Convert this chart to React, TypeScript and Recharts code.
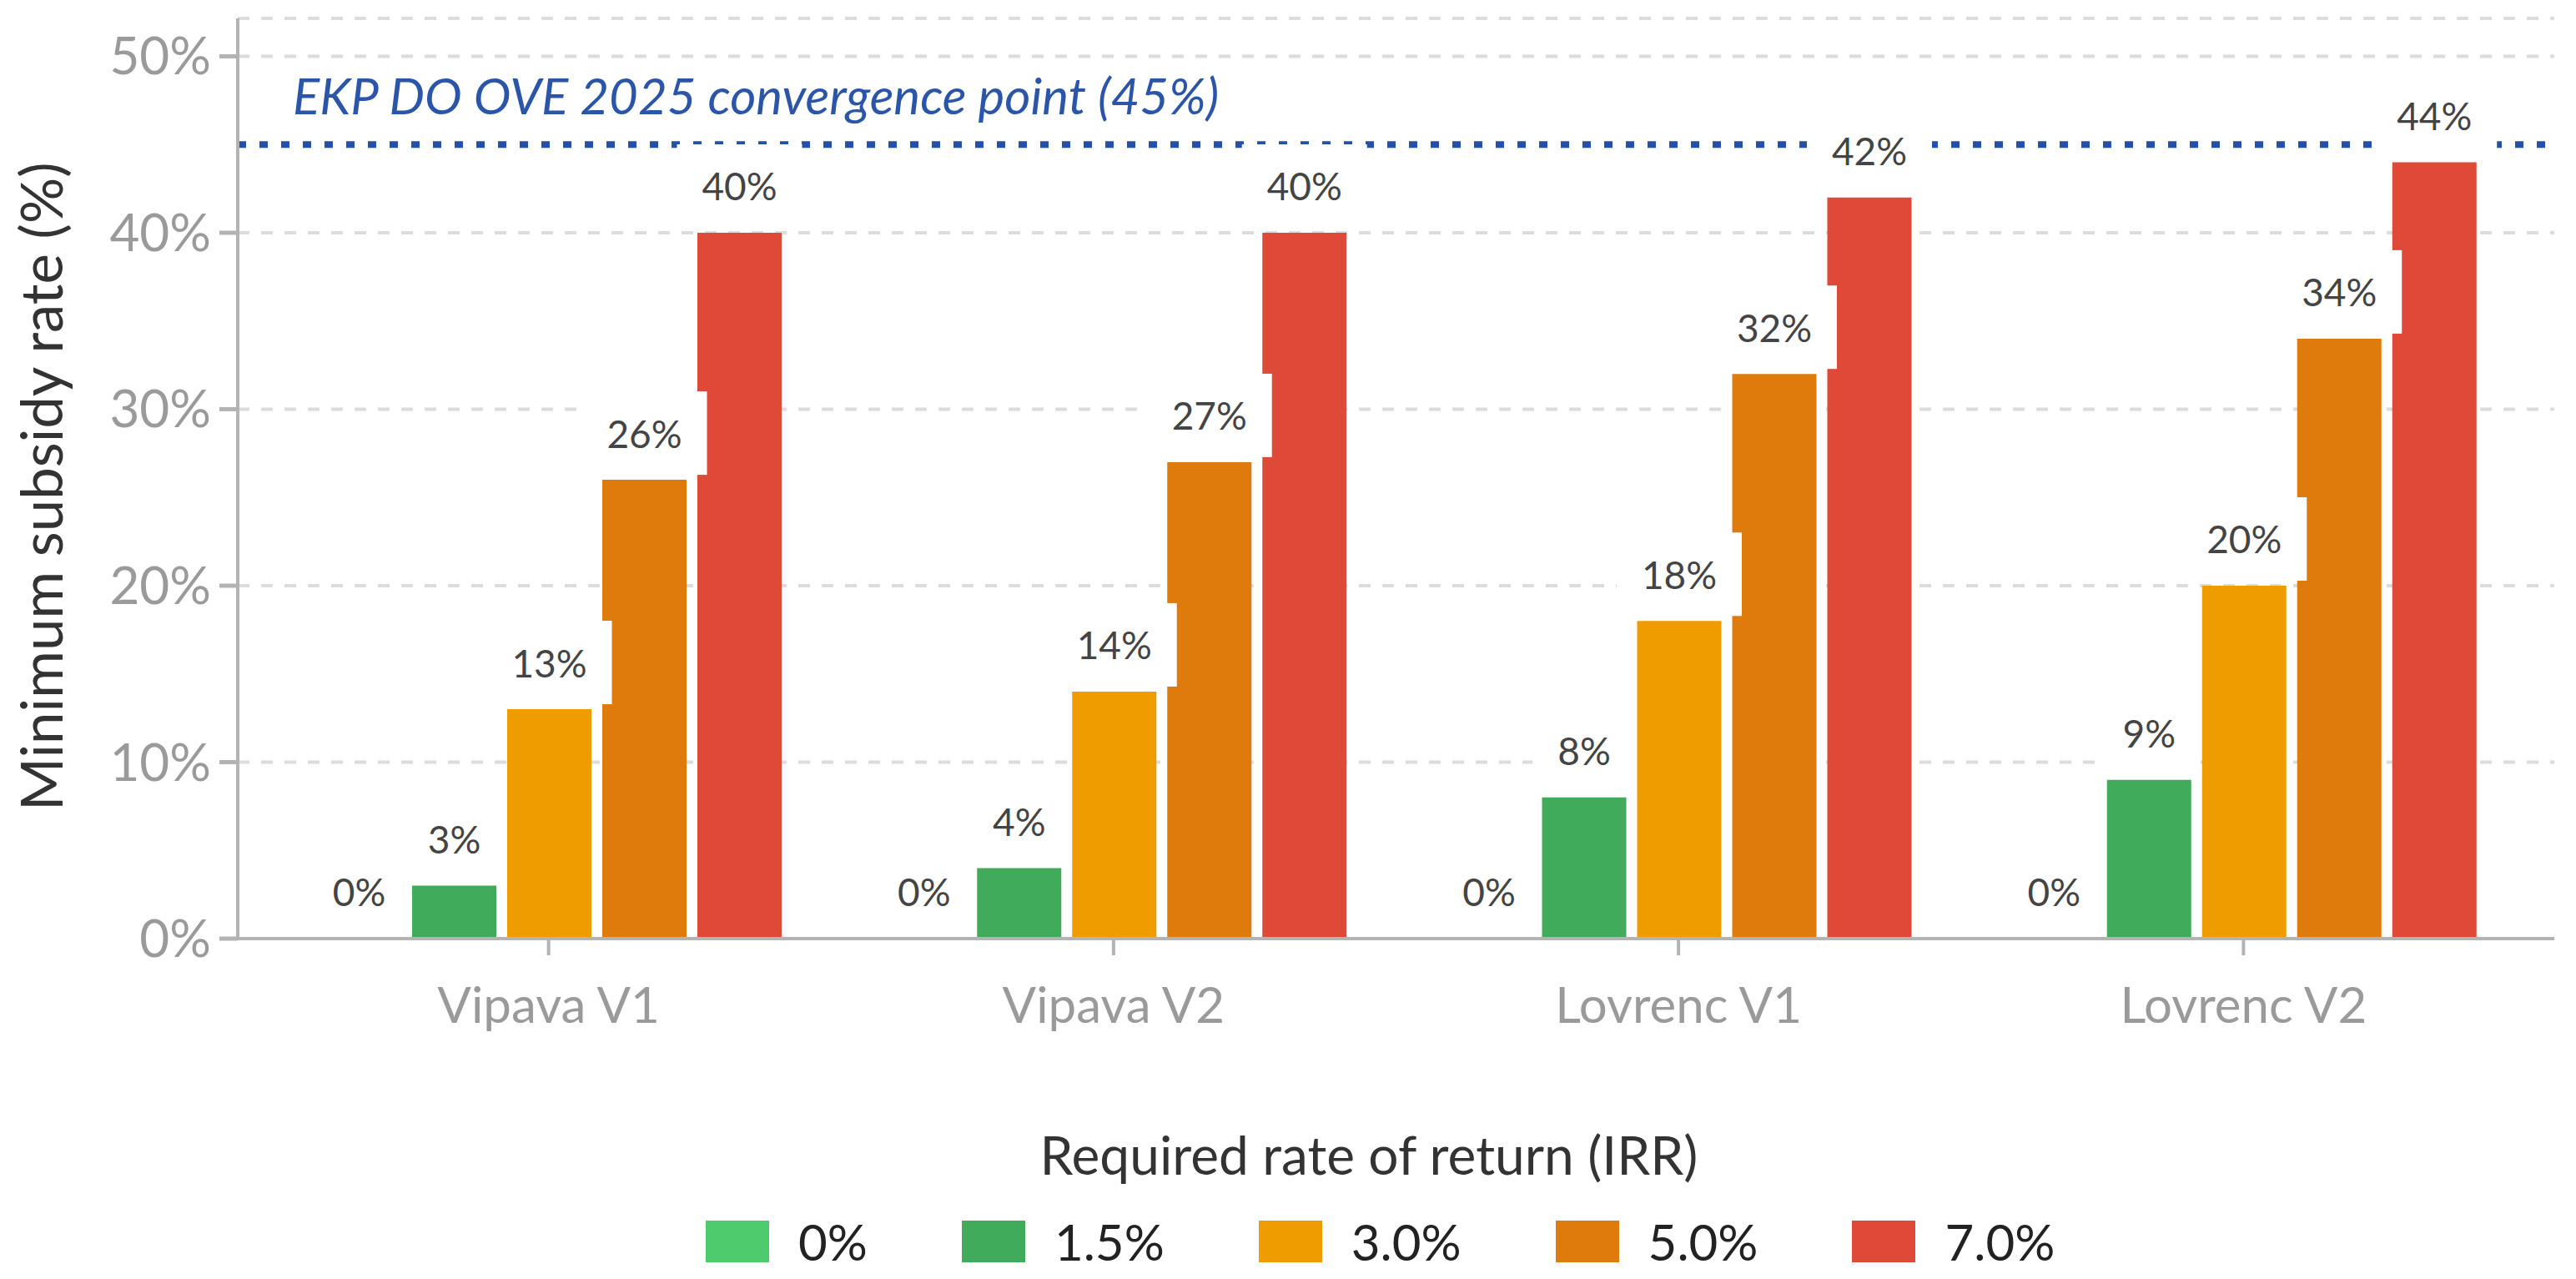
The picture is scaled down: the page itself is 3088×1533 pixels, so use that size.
import React from 'react';
import { BarChart, Bar, XAxis, YAxis, CartesianGrid, ReferenceLine, LabelList } from 'recharts';

// ---------- data ----------
const categories = ['Vipava V1', 'Vipava V2', 'Lovrenc V1', 'Lovrenc V2'];
const irrLabels = ['0%', '1.5%', '3.0%', '5.0%', '7.0%'];
const irr0 = [0, 0, 0, 0];
const irr15 = [3, 4, 8, 9];
const irr30 = [13, 14, 18, 20];
const irr50 = [26, 27, 32, 34];
const irr70 = [40, 40, 42, 44];
const yTicks = [0, 10, 20, 30, 40, 50];
const targetRate = 45;
const targetLabel = 'EKP DO OVE 2025 convergence point (45%)';
const yTitle = 'Minimum subsidy rate (%)';
const legendTitle = 'Required rate of return (IRR)';

const seriesKeys = ['r0', 'r15', 'r30', 'r50', 'r70'];
const seriesValues = [irr0, irr15, irr30, irr50, irr70];
const colors = ['#4ECB6D', '#3FAB5B', '#EF9C00', '#DF7B0C', '#DF4A38'];

const data = categories.map((name, i) => {
  const row: Record<string, any> = { name };
  seriesKeys.forEach((k, s) => {
    row[k] = seriesValues[s][i];
  });
  return row;
});

// ---------- layout ----------
const W = 3088;
const H = 1533;
const FONT = 'Lato, "Open Sans", sans-serif';
const AXIS_GREY = '#B3B3B3';
const TICK_GREY = '#9A9A9A';
const LABEL_FONT = 46;

const charW = (ch: string) => (ch === '%' ? 0.84 : ch === '.' ? 0.26 : 0.58);

function BarValueLabel(props: any) {
  const vb = props.viewBox && props.viewBox.width !== undefined ? props.viewBox : props;
  const x = Number(vb.x);
  const y = Number(vb.y);
  const w = Number(vb.width);
  const h = Number(vb.height);
  if (!isFinite(x) || !isFinite(y)) return null;
  const top = h < 0 ? y + h : y;
  const cx = x + w / 2;
  const text = `${props.value}%`;
  const tw = text.split('').reduce((s, c) => s + charW(c), 0) * LABEL_FONT;
  const bw = tw + 58;
  const bh = 100;
  const cy = top - 56;
  return (
    <g>
      <rect x={cx - bw / 2} y={cy - bh / 2} width={bw} height={bh} fill="#ffffff" />
      <text
        x={cx}
        y={cy}
        textAnchor="middle"
        dominantBaseline="central"
        fontFamily={FONT}
        fontSize={LABEL_FONT}
        fill="#444444"
      >
        {text}
      </text>
    </g>
  );
}

function YTitle(props: any) {
  const bx = 75;
  const by = 972;
  return (
    <text
      x={bx}
      y={by}
      transform={`rotate(-90, ${bx}, ${by})`}
      textAnchor="start"
      fontFamily={FONT}
      fontSize={69}
      fill="#333333"
    >
      {yTitle}
    </text>
  );
}

function TargetText(props: any) {
  const vb = props.viewBox || {};
  const x0 = vb.x !== undefined ? Number(vb.x) : 285;
  const y0 = vb.y !== undefined ? Number(vb.y) : 175;
  return (
    <text
      x={x0 + 66}
      y={y0 - 36}
      fontFamily={FONT}
      fontStyle="italic"
      fontSize={60}
      fill="#2A55A8"
    >
      {targetLabel}
    </text>
  );
}

export default function App() {
  return (
    <div style={{ position: 'absolute', left: 0, top: 0, width: W, height: H, background: '#fff', fontFamily: FONT }}>
      <BarChart
        width={W}
        height={H}
        data={data}
        margin={{ top: 22, right: 26, left: 0, bottom: 288 }}
        barCategoryGap={61}
        barGap={13}
      >
        <CartesianGrid
          vertical={false}
          stroke="#DCDCDC"
          strokeWidth={4}
          strokeDasharray="14 14"
        />
        <XAxis
          dataKey="name"
          height={120}
          padding={{ left: 34, right: 34 }}
          tick={{ fill: TICK_GREY, fontSize: 60, fontFamily: FONT }}
          tickSize={20}
          tickMargin={38}
          axisLine={{ stroke: AXIS_GREY, strokeWidth: 4 }}
          tickLine={{ stroke: AXIS_GREY, strokeWidth: 4 }}
          interval={0}
        />
        <XAxis xAxisId="lab" dataKey="name" hide padding={{ left: 34, right: 34 }} />
        <YAxis
          width={285}
          domain={[0, 52.15]}
          ticks={yTicks}
          tickFormatter={(v: number) => `${v}%`}
          tick={{ fill: TICK_GREY, fontSize: 62, fontFamily: FONT }}
          tickSize={22}
          tickMargin={10}
          axisLine={{ stroke: AXIS_GREY, strokeWidth: 4 }}
          tickLine={{ stroke: AXIS_GREY, strokeWidth: 5 }}
          allowDataOverflow
          label={{ content: (p: any) => <YTitle {...p} /> }}
        />
        {seriesKeys.map((k, i) => (
          <Bar key={k} dataKey={k} name={irrLabels[i]} fill={colors[i]} isAnimationActive={false} />
        ))}
        <ReferenceLine
          y={targetRate}
          stroke="#2350A8"
          strokeWidth={8}
          strokeDasharray="10 16"
          label={{ content: (p: any) => <TargetText {...p} /> }}
        />
        {seriesKeys.map((k, i) => (
          <Bar
            key={`lab-${k}`}
            xAxisId="lab"
            dataKey={k}
            fill="transparent"
            minPointSize={1}
            isAnimationActive={false}
            legendType="none"
          >
            <LabelList dataKey={k} content={(p: any) => <BarValueLabel {...p} />} />
          </Bar>
        ))}
      </BarChart>

      {/* legend */}
      <div
        style={{
          position: 'absolute',
          left: 1641 - 600,
          width: 1200,
          top: 1345,
          textAlign: 'center',
          color: '#333333',
          fontSize: 64,
          lineHeight: '78px',
          fontFamily: FONT,
          whiteSpace: 'nowrap',
        }}
      >
        {legendTitle}
      </div>
      <div
        style={{
          position: 'absolute',
          left: 846,
          top: 1455,
          height: 66,
          display: 'flex',
          alignItems: 'center',
          fontFamily: FONT,
          whiteSpace: 'nowrap',
        }}
      >
        {irrLabels.map((lab, i) => (
          <div key={lab} style={{ display: 'flex', alignItems: 'center', marginRight: i < irrLabels.length - 1 ? 113 : 0 }}>
            <div style={{ width: 76, height: 50, background: colors[i] }} />
            <span style={{ marginLeft: 35, fontSize: 60, color: '#222222', lineHeight: '66px' }}>{lab}</span>
          </div>
        ))}
      </div>
    </div>
  );
}
